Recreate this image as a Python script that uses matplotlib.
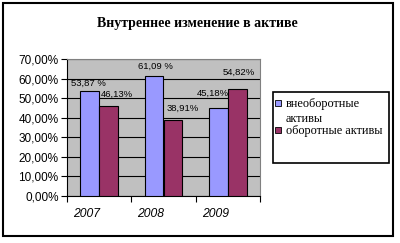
"""
Внутреннее изменение в активе: доли внеоборотных и оборотных активов
по годам, сгруппированные столбцы в стиле старого Excel.
"""

import numpy as np
import matplotlib.pyplot as plt
from matplotlib.patches import Rectangle

# --- data ---
YEARS = ["2007", "2008", "2009"]
NONCURRENT = [53.87, 61.09, 45.18]   # внеоборотные активы, %
CURRENT = [46.13, 38.91, 54.82]      # оборотные активы, %
NONCURRENT_LABELS = ["53,87 %", "61,09 %", "45,18%"]
CURRENT_LABELS = ["46,13%", "38,91%", "54,82%"]
Y_TICKS = [0, 10, 20, 30, 40, 50, 60, 70]
SERIES_NAMES = ["внеоборотные\nактивы", "оборотные активы"]

BLUE = "#9999FF"
PLUM = "#993366"
GRAY = "#C0C0C0"

W, H = 400, 243
fig = plt.figure(figsize=(W / 100, H / 100), dpi=100)
ax = fig.add_axes([67 / W, 1 - 196 / H, 193 / W, 137 / H])
ax.set_facecolor(GRAY)

x = np.arange(len(YEARS)) + 0.5
bw = 0.295
b1 = ax.bar(x - bw / 2, NONCURRENT, bw, color=BLUE, edgecolor="black", linewidth=0.8, zorder=3)
b2 = ax.bar(x + bw / 2, CURRENT, bw, color=PLUM, edgecolor="black", linewidth=0.8, zorder=3)

ax.set_xlim(0, 3)
ax.set_ylim(0, 70)
ax.set_yticks(Y_TICKS)
ax.set_yticklabels([f"{v},00%" for v in Y_TICKS], fontsize=8.5, family="Liberation Sans")
ax.set_xticks([0, 1, 2, 3])
ax.set_xticklabels([])
ax.tick_params(axis="both", direction="out", length=4, width=0.8, pad=2)
ax.yaxis.grid(True, color="black", linewidth=0.8, zorder=1)
ax.set_axisbelow(True)
for s in ["top", "right"]:
    ax.spines[s].set_color("#808080")
for s in ["left", "bottom"]:
    ax.spines[s].set_color("black")

# year labels sit a little left of the group centres, as in the original
for xi, yr in zip(x, YEARS):
    ax.annotate(yr, (xi, 0), xytext=(-9, -13), textcoords="offset points",
                ha="center", va="center", fontsize=8.7, style="italic",
                family="Liberation Sans")

# value labels (offsets in points)
nc_off = [(-1, 5), (1, 7), (-4, 10)]
c_off = [(6, 8), (7, 8), (1, 12)]
for xi, v, lab, off in zip(x - bw / 2, NONCURRENT, NONCURRENT_LABELS, nc_off):
    ax.annotate(lab, (xi, v), xytext=off, textcoords="offset points",
                ha="center", va="center", fontsize=6.8, family="Liberation Sans", zorder=5)
for xi, v, lab, off in zip(x + bw / 2, CURRENT, CURRENT_LABELS, c_off):
    ax.annotate(lab, (xi, v), xytext=off, textcoords="offset points",
                ha="center", va="center", fontsize=6.8, family="Liberation Sans", zorder=5)

fig.text(197.5 / W, 1 - 23 / H, "Внутреннее изменение в активе", ha="center", va="center",
         fontsize=10, fontweight="bold", family="Liberation Serif")

# legend box and outer chart border
fig.patches.append(Rectangle((273 / W, 1 - 163 / H), 116 / W, 71 / H, transform=fig.transFigure,
                             fill=False, edgecolor="black", linewidth=1.2))
fig.patches.append(Rectangle((3 / W, 1 - 236 / H), 390 / W, 233 / H, transform=fig.transFigure,
                             fill=False, edgecolor="black", linewidth=1.5))

# legend drawn by hand: the key square sits next to the first line of its label
for bars, name, ky in zip([b1, b2], SERIES_NAMES, [103.5, 130]):
    fig.patches.append(Rectangle((275 / W, 1 - (ky + 3) / H), 6 / W, 6 / H,
                                 transform=fig.transFigure,
                                 facecolor=bars.patches[0].get_facecolor(),
                                 edgecolor="black", linewidth=0.6))
    fig.text(286 / W, 1 - (ky - 5) / H, name, ha="left", va="top", linespacing=1.25,
             fontsize=8.8, family="Liberation Serif")

fig.savefig("out.png", dpi=100)
